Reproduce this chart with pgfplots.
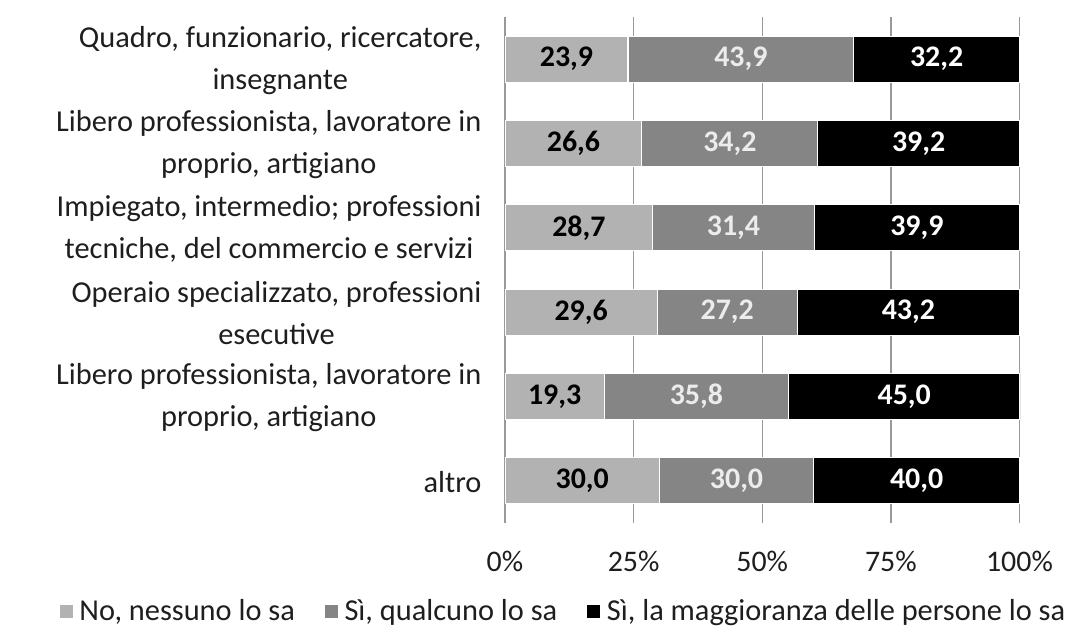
\documentclass[border=0pt]{standalone}
\usepackage{pgfplots}
\pgfplotsset{compat=1.18}
\usepackage{pgfplotstable}
\usepackage{fontspec}
\setmainfont{Carlito}
\definecolor{cA}{HTML}{B2B2B2}
\definecolor{cB}{HTML}{858585}
\definecolor{cC}{HTML}{000000}
\definecolor{txt}{HTML}{1E1E1E}
\pgfplotstableread{
y a b c
0 23.9 43.9 32.2
1 26.6 34.2 39.2
2 28.7 31.4 39.9
3 29.6 27.2 43.2
4 19.3 35.8 45.0
5 30.0 30.0 40.0
}\data
\begin{document}
\begin{tikzpicture}
\useasboundingbox (0,0) rectangle (1077bp,633bp);
\begin{axis}[
  at={(505bp,110bp)}, anchor=south west,
  scale only axis, width=515bp, height=506bp,
  xbar stacked, bar width=46bp,
  xmin=0, xmax=100.1, ymin=-0.5, ymax=5.5, y dir=reverse,
  xtick={0,25,50,75,100},
  xticklabel={\pgfmathprintnumber[fixed,precision=0]{\tick}\%},
  /pgf/number format/assume math mode=true,
  xticklabel style={font=\fontsize{30}{36}\selectfont, text=txt, yshift=-25bp},
  ytick={0,...,5},
  yticklabels={{Quadro, funzionario, ricercatore,\\insegnante},
    {Libero professionista, lavoratore in\\proprio, artigiano},
    {Impiegato, intermedio; professioni\\tecniche, del commercio e servizi},
    {Operaio specializzato, professioni\\esecutive},
    {Libero professionista, lavoratore in\\proprio, artigiano},
    {altro}},
  yticklabel style={align=center, font=\fontsize{30.5}{42}\selectfont, text=txt, xshift=-20bp, yshift=-1bp},
  axis line style={draw=none},
  tick style={draw=none},
  xmajorgrids,
  major grid style={draw=gray!80, line width=1.3bp},
  nodes near coords={\pgfmathprintnumber[use comma,fixed,fixed zerofill,precision=1]{\pgfplotspointmeta}},
  every node near coord/.append style={anchor=center, font=\fontsize{30}{36}\selectfont\bfseries},
  legend style={at={(axis description cs:0.1136,-0.174)}, anchor=center, draw=none, fill=none,
    legend columns=3, font=\fontsize{30.5}{36}\selectfont, text=txt,
    /tikz/every even column/.append style={column sep=28bp}},
  legend image code/.code={\fill[#1, draw=none] (0bp,-6.5bp) rectangle (13bp,6.5bp); \path (17bp,0bp);},
]
\addplot[fill=cA, draw=white, line width=1.2bp,
  every node near coord/.append style={text=black}] table[x=a, y=y] {\data};
\addplot[fill=cB, draw=white, line width=1.2bp,
  every node near coord/.append style={text=gray!15}] table[x=b, y=y] {\data};
\addplot[fill=cC, draw=white, line width=1.2bp,
  every node near coord/.append style={text=white}] table[x=c, y=y] {\data};
\legend{{No, nessuno lo sa}, {S\`i, qualcuno lo sa}, {S\`i, la maggioranza delle persone lo sa}}
\end{axis}
\end{tikzpicture}
\end{document}
